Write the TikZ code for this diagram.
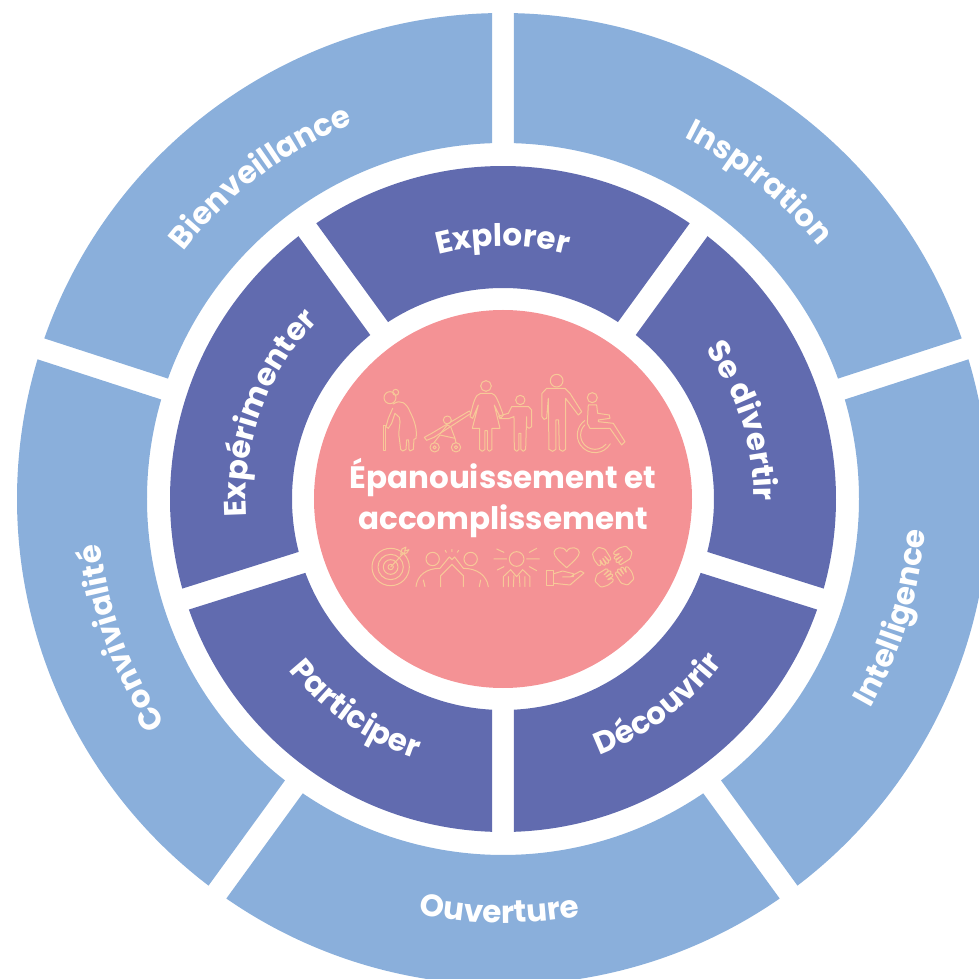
\documentclass[tikz,border=0pt]{standalone}
\usepackage{fontspec}
\setmainfont{Poppins}
\definecolor{skyring}{HTML}{8AAFDB}
\definecolor{indigoring}{HTML}{616BAF}
\definecolor{salmon}{HTML}{F49295}
\definecolor{peach}{HTML}{F7C998}
\usetikzlibrary{decorations.text}

% one sector of a ring, with gaps of constant width
\newcommand{\ringsector}[5]{%
  \fill[#1] ({#2+asin(11/#5)}:#5) arc[start angle={#2+asin(11/#5)}, end angle={#3-asin(11/#5)}, radius=#5]
    -- ({#3-asin(11/#4)}:#4) arc[start angle={#3-asin(11/#4)}, end angle={#2+asin(11/#4)}, radius=#4] -- cycle;}
% a label along a circle: mid angle, delta angle, radius, text
\newcommand{\arclabel}[4]{%
  \path[decorate, decoration={text along path, text align=center, text={|\bfseries\fontsize{31}{31}\selectfont\color{white}|#4}}]
    ({#1-(#2)/2}:#3) arc[start angle={#1-(#2)/2}, delta angle=#2, radius=#3];}

\begin{document}
\begin{tikzpicture}[
  x=1pt, y=1pt,
  iconline/.style={draw=peach, line width=1pt, line join=round, line cap=round},
  zoomtop/.style={shift={(-143pt,139pt)}, x=0.3333pt, y=-0.3333pt},
  zoombottom/.style={shift={(-143pt,-36pt)}, x=0.3333pt, y=-0.3333pt}
]
\useasboundingbox (-503,-480) rectangle (476,499);
\clip (-503,-480) rectangle (476,499);

% Outer ring
\foreach \a in {18,90,162,234,306} {
  \ringsector{skyring}{\a}{\a+72}{356}{486}
}
% Inner ring
\foreach \a/\b in {-17.5/54, 54/126, 126/197.5, 197.5/270, 270/342.5} {
  \ringsector{indigoring}{\a}{\b}{211}{333}
}

% Centre
\node[circle, fill=salmon, minimum size=378pt, inner sep=0pt] (centre) at (0,0) {};
\node[align=center, text=white, font=\bfseries\fontsize{31}{41}\selectfont] (title) at (0,1) {Épanouissement et\\accomplissement};

% Labels, outer ring
\arclabel{127}{-68}{404}{Bienveillance}
\arclabel{51}{-68}{404}{Inspiration}
\arclabel{-17}{68}{423}{Intelligence}
\arclabel{-90.5}{68}{424}{Ouverture}
\arclabel{200}{-68}{405}{Convivialité}
% Labels, inner ring
\arclabel{90}{-68}{253}{Explorer}
\arclabel{18}{-68}{251}{Se divertir}
\arclabel{-53}{68}{274}{Découvrir}
\arclabel{-125}{68}{274}{Participer}
\arclabel{160}{-68}{257}{Expérimenter}

% Icons, upper row
\begin{scope}[zoomtop, iconline]
  % old woman
  \draw (90,113) circle[radius=18];
  \draw (107,97) circle[radius=9];
  \draw (100,132) .. controls (122,116) and (140,130) .. (150,155) .. controls (165,185) and (172,210) .. (168,235)
    -- (162,238) -- (160,268) -- (150,273) -- (147,268) -- (146,240) -- (140,240) -- (138,268) -- (128,273) -- (122,268)
    -- (118,235) .. controls (112,210) and (125,190) .. (118,172) -- (105,160) -- (95,190) -- (85,205) -- (78,200) -- (85,175) -- (98,145);
  \draw (72,198) rectangle (78,273);
  % stroller
  \draw (224,262) circle[radius=14] (224,262) circle[radius=5];
  \draw (288,262) circle[radius=14] (288,262) circle[radius=5];
  \draw (262,180) circle[radius=12];
  \draw (193,232) -- (215,220) -- (328,153) -- (333,160) -- (222,232) -- (200,241) -- cycle;
  \draw (222,248) -- (240,225) -- (285,235) -- (288,248);
  \draw (240,222) -- (262,195) -- (272,200) -- (285,235);
  % mother
  \draw (378,78) circle[radius=16];
  \draw (362,100) -- (395,100) .. controls (408,102) and (415,125) .. (430,165) -- (422,175) -- (403,135) -- (420,205)
    -- (396,205) -- (396,268) -- (388,274) -- (382,268) -- (382,212) -- (375,212) -- (375,268) -- (367,274) -- (359,268)
    -- (359,205) -- (337,205) -- (355,135) -- (338,175) -- (330,170) .. controls (340,130) and (345,103) .. (362,100);
  % child
  \draw (481,120) circle[radius=14];
  \draw (455,140) -- (506,140) -- (515,150) -- (515,200) -- (507,205) -- (500,200) -- (500,170) -- (497,268) -- (490,274)
    -- (483,268) -- (483,220) -- (477,220) -- (477,268) -- (470,274) -- (463,268) -- (462,170) -- (445,176) -- (420,176)
    -- (416,168) -- (445,160) -- cycle;
  % man
  \draw (590,62) circle[radius=19];
  \draw (560,85) -- (615,85) -- (630,100) -- (665,155) -- (655,165) -- (617,115) -- (617,268) -- (608,274) -- (598,268)
    -- (596,180) -- (588,180) -- (588,268) -- (578,274) -- (567,268) -- (565,115) -- (560,175) -- (552,178) -- (546,170)
    -- (546,100) -- cycle;
  % wheelchair
  \draw (697,113) circle[radius=15];
  \draw (685,135) -- (710,135) -- (713,160) -- (748,165) -- (750,175) -- (715,180) -- (715,185) -- (760,190) -- (795,245)
    -- (785,255) -- (750,205) -- (690,205) -- (682,190) -- cycle;
  \draw (705,225) ++(235:53) arc[start angle=235, end angle=30, radius=53];
  \draw (705,225) ++(225:43) arc[start angle=225, end angle=40, radius=43];
\end{scope}

% Icons, lower row
\begin{scope}[zoombottom, iconline]
  % target
  \foreach \r in {56,38,22,8} {
    \draw (92,96) circle[radius=\r];
  }
  \draw (92,96) -- (135,50);
  \draw (122,58) -- (126,42) -- (138,36) -- (134,48) -- (147,44) -- (140,54) -- cycle;
  % high five
  \draw (218,72) circle[radius=20] (332,72) circle[radius=20];
  \draw (168,155) .. controls (172,120) and (200,100) .. (240,100) -- (268,66) -- (276,74) -- (284,66) -- (310,100)
    .. controls (350,100) and (380,120) .. (385,155);
  \draw (242,155) -- (242,122) -- (276,88) -- (310,122) -- (310,155);
  \draw (195,155) -- (190,135) (358,155) -- (362,135);
  \draw (256,46) -- (259,52) (276,43) -- (276,50) (296,46) -- (292,52);
  % person with rays
  \draw (470,72) circle[radius=22];
  \draw (402,72) -- (440,72) (500,72) -- (538,72) (410,42) -- (432,52) (530,40) -- (508,52) (412,105) -- (432,95) (530,107) -- (508,95);
  \draw (430,155) -- (430,125) -- (452,104) -- (470,125) -- (488,104) -- (510,125) -- (510,155);
  \draw (445,155) -- (445,125) (495,155) -- (495,125) (460,155) -- (462,122) (480,155) -- (478,122);
  % heart and hand
  \draw (620,98) .. controls (600,80) and (582,65) .. (582,52) .. controls (582,38) and (610,30) .. (620,50)
    .. controls (630,30) and (658,38) .. (658,52) .. controls (658,65) and (640,80) .. (620,98) -- cycle;
  \draw (560,108) rectangle (582,152);
  \draw (582,116) -- (608,108) -- (640,116) -- (640,125) -- (608,126);
  \draw (582,145) -- (630,150) -- (672,114) -- (662,108) -- (636,122);
  % four hands
  \foreach \hx/\hy/\ang in {724/65/-45, 788/60/-135, 733/130/45, 795/122/135} {
    \begin{scope}[shift={(\hx,\hy)}, rotate=\ang]
      \draw[rounded corners=1pt] (-26,12) -- (-26,-14) -- (-8,-24) -- (26,-16) -- (26,-8) -- (4,-8) -- (28,-6) -- (28,3)
        -- (4,0) -- (26,6) -- (24,14) -- (2,9) -- (18,18) -- (14,25) -- (-8,22) -- cycle;
    \end{scope}
  }
\end{scope}
\end{tikzpicture}
\end{document}
